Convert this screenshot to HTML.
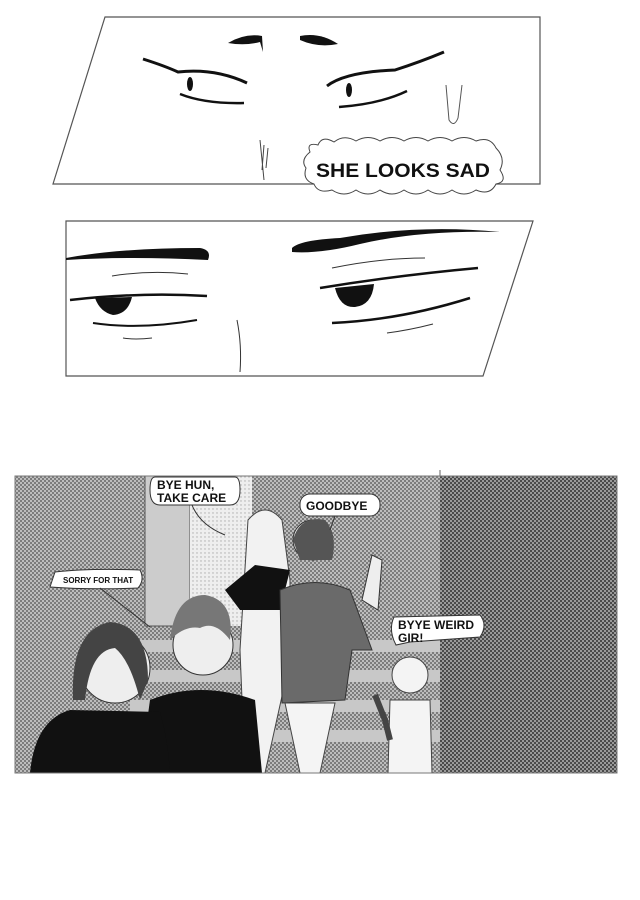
<!DOCTYPE html>
<html><head><meta charset="utf-8"><style>
html,body{margin:0;padding:0;background:#fff;width:640px;height:900px;overflow:hidden}
svg{display:block}
text{font-family:"Liberation Sans",sans-serif;font-weight:bold;fill:#111}
</style></head><body>
<svg width="640" height="900" viewBox="0 0 640 900" xmlns="http://www.w3.org/2000/svg">
<defs>
<pattern id="d1" width="4" height="4" patternUnits="userSpaceOnUse"><rect width="4" height="4" fill="#bdbdbd"/><rect width="2" height="2" fill="#7c7c7c"/><rect x="2" y="2" width="2" height="2" fill="#7c7c7c"/></pattern>
<pattern id="d2" width="4" height="4" patternUnits="userSpaceOnUse"><rect width="4" height="4" fill="#9a9a9a"/><rect width="2" height="2" fill="#4a4a4a"/><rect x="2" y="2" width="2" height="2" fill="#4a4a4a"/></pattern>
<pattern id="d3" width="4" height="4" patternUnits="userSpaceOnUse"><rect width="4" height="4" fill="#eee"/><circle cx="1" cy="1" r="0.7" fill="#aaa"/></pattern>
</defs>
<!-- Panel 1 -->
<polygon points="105,17 540,17 540,184 53,184" fill="#fff" stroke="#555" stroke-width="1.2"/>
<path d="M228,43 Q245,33 262,36 L263,52 L260,42 Q245,46 228,43Z" fill="#111"/>
<path d="M300,36 Q320,32 338,44 Q318,48 300,40Z" fill="#111"/>
<path d="M143,59 Q165,66 178,72 Q215,68 247,83" fill="none" stroke="#111" stroke-width="3"/>
<ellipse cx="190" cy="84" rx="3" ry="7" fill="#111"/>
<path d="M180,94 Q205,104 244,103" fill="none" stroke="#111" stroke-width="2.5"/>
<path d="M327,86 Q345,72 395,70 Q420,62 444,52" fill="none" stroke="#111" stroke-width="3"/>
<ellipse cx="349" cy="90" rx="3" ry="7" fill="#111"/>
<path d="M339,107 Q380,104 407,91" fill="none" stroke="#111" stroke-width="2.5"/>
<path d="M446,85 L449,120 Q454,128 458,118 L462,85" fill="none" stroke="#555" stroke-width="1"/>
<path d="M260,140 L264,180 M264,145 L262,170 M268,148 L266,168" stroke="#444" stroke-width="1"/>
<path d="M310,152 Q306,142 318,145 Q322,135 334,142 Q344,134 356,141 Q368,134 380,141 Q392,134 404,141 Q416,134 428,141 Q440,134 452,141 Q464,134 476,141 Q490,136 496,148 Q506,158 500,170 Q508,182 496,184 Q490,196 476,190 Q464,198 452,190 Q440,198 428,190 Q416,198 404,190 Q392,198 380,190 Q368,198 356,190 Q344,198 332,190 Q318,194 314,184 Q302,180 306,168 Q300,160 310,152Z" fill="#fff" stroke="#444" stroke-width="1"/>
<text x="316" y="177" font-size="19" textLength="174" lengthAdjust="spacingAndGlyphs">SHE LOOKS SAD</text>
<!-- Panel 2 -->
<polygon points="66,221 533,221 483,376 66,376" fill="#fff" stroke="#555" stroke-width="1.2"/>
<path d="M66,258 Q120,248 200,248 Q212,250 208,260 Q130,256 66,260Z" fill="#111"/>
<path d="M292,248 Q300,240 340,238 Q420,224 500,232 Q420,230 360,244 Q320,254 292,252Z" fill="#111"/>
<path d="M112,276 Q150,270 188,274" stroke="#333" stroke-width="1" fill="none"/>
<path d="M70,300 Q140,292 207,296" stroke="#111" stroke-width="2.5" fill="none"/>
<path d="M95,298 Q100,312 113,315 Q128,314 132,297Z" fill="#111"/>
<path d="M93,323 Q140,330 197,320" stroke="#111" stroke-width="2" fill="none"/>
<path d="M123,338 Q135,340 152,338" stroke="#333" stroke-width="1" fill="none"/>
<path d="M332,268 Q380,258 425,258" stroke="#333" stroke-width="1" fill="none"/>
<path d="M320,288 Q400,275 478,268" stroke="#111" stroke-width="2.5" fill="none"/>
<path d="M335,288 Q340,308 355,307 Q372,305 374,284Z" fill="#111"/>
<path d="M332,323 Q400,320 470,298" stroke="#111" stroke-width="2.5" fill="none"/>
<path d="M387,333 Q410,330 433,324" stroke="#333" stroke-width="1" fill="none"/>
<path d="M237,320 Q242,345 240,372" stroke="#333" stroke-width="1" fill="none"/>
<!-- Panel 3 -->
<line x1="440" y1="470" x2="440" y2="476" stroke="#666"/>
<rect x="15" y="476" width="425" height="297" fill="url(#d1)"/>
<rect x="440" y="476" width="177" height="297" fill="url(#d2)"/>
<rect x="145" y="476" width="45" height="150" fill="#ccc" stroke="#555"/>
<rect x="190" y="476" width="62" height="150" fill="url(#d3)"/>
<rect x="130" y="640" width="310" height="12" fill="#c8c8c8"/>
<rect x="130" y="670" width="310" height="12" fill="#c8c8c8"/>
<rect x="130" y="700" width="310" height="12" fill="#c8c8c8"/>
<rect x="130" y="730" width="310" height="12" fill="#c8c8c8"/>
<path d="M248,520 Q265,500 282,520 L290,580 L290,660 L265,773 L245,773 L240,650 Z" fill="#f2f2f2" stroke="#444"/>
<path d="M225,590 L255,565 L290,570 L280,610 L240,610Z" fill="#111"/>
<circle cx="313" cy="540" r="20" fill="#eee" stroke="#333"/>
<path d="M293,540 Q300,515 325,520 Q338,535 332,560 L300,560Z" fill="#555"/>
<path d="M280,590 Q315,575 350,590 L372,650 L352,650 L345,700 L282,703Z" fill="#6a6a6a" stroke="#333"/>
<path d="M362,600 L372,555 L382,560 L378,610Z" fill="#eee" stroke="#333"/>
<path d="M285,703 L300,773 L320,773 L335,703Z" fill="#f4f4f4" stroke="#444"/>
<circle cx="410" cy="675" r="18" fill="#f4f4f4" stroke="#444"/>
<path d="M390,700 L430,700 L432,773 L388,773Z" fill="#f4f4f4" stroke="#444"/>
<path d="M375,695 L385,720 L390,740" stroke="#444" fill="none" stroke-width="6"/>
<circle cx="203" cy="645" r="30" fill="#eee" stroke="#333"/>
<path d="M170,640 Q175,595 205,595 Q235,600 230,640 Q215,620 200,628 Q185,625 170,640Z" fill="#777"/>
<path d="M140,773 L150,700 Q200,680 255,700 L262,773Z" fill="#111"/>
<circle cx="115" cy="668" r="35" fill="#eee" stroke="#333"/>
<path d="M73,700 Q70,630 110,622 Q148,625 148,680 L140,700 Q130,660 115,648 Q90,650 85,700Z" fill="#444"/>
<path d="M30,773 Q35,720 70,710 L160,712 Q168,740 170,773Z" fill="#111"/>
<path d="M155,477 L235,477 Q240,477 240,490 Q240,505 230,505 L160,505 Q150,505 150,490 Q150,477 155,477Z" fill="#fff" stroke="#333"/>
<path d="M192,505 Q200,525 225,535" stroke="#333" fill="none"/>
<text x="157" y="489" font-size="12">BYE HUN,</text>
<text x="157" y="502" font-size="12">TAKE CARE</text>
<rect x="300" y="494" width="80" height="22" rx="10" fill="#fff" stroke="#333"/>
<path d="M335,516 L330,530" stroke="#333"/>
<text x="306" y="510" font-size="12">GOODBYE</text>
<path d="M55,572 Q90,568 140,570 Q145,580 138,588 Q90,590 50,587Z" fill="#fff" stroke="#333"/>
<path d="M100,588 L150,627" stroke="#333"/>
<text x="63" y="583" font-size="8">SORRY FOR THAT</text>
<path d="M394,617 L480,615 Q488,625 480,637 L410,642 L396,645 Q388,630 394,617Z" fill="#fff" stroke="#333"/>
<text x="398" y="629" font-size="12">BYYE WEIRD</text>
<text x="398" y="642" font-size="12">GIR!</text>
<rect x="15" y="476" width="602" height="297" fill="none" stroke="#777" stroke-width="1"/>
</svg>
</body></html>
